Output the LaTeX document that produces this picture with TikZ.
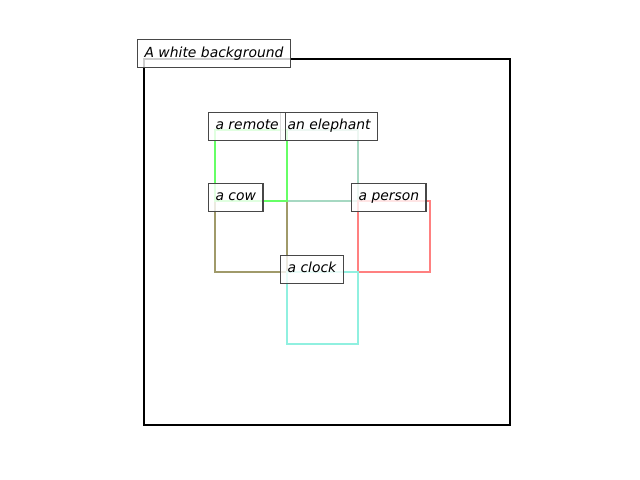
\documentclass[tikz,border=0pt]{standalone}
\usepackage{fontspec}
\setmainfont{DejaVu Sans}
\begin{document}
\begin{tikzpicture}[x=0.01in,y=-0.01in,
  region/.style={line width=2bp},
  tag/.style={anchor=south west, draw=black!72, line width=0.9bp,
    fill=white, fill opacity=0.8, text opacity=1,
    font=\fontsize{10bp}{12bp}\selectfont\itshape,
    inner xsep=5bp, inner ysep=0pt, text height=7.4bp, text depth=2.6bp,
    minimum height=20.2bp}]
\definecolor{remotec}{HTML}{66FF66}
\definecolor{elephantc}{HTML}{A6D8C2}
\definecolor{cowc}{HTML}{A09A6A}
\definecolor{personc}{HTML}{FF8080}
\definecolor{clockc}{HTML}{90F0E0}
\useasboundingbox (0,0) rectangle (640,480);

% regions
\draw[region, black] (144,59) rectangle (510,425);
\draw[region, elephantc] (287,130) rectangle (358,201);
\draw[region, cowc] (215,201) rectangle (287,272);
\draw[region, personc] (358,201) rectangle (430,272);
\draw[region, clockc] (287,272) rectangle (358,344);
\draw[region, remotec] (215,130) rectangle (287,201);

% labels
\node[tag] (bg) at (137,68.5) {A white background};
\node[tag] (elephant) at (280,141) {an elephant};
\node[tag] (cow) at (208,212) {a cow};
\node[tag] (person) at (351,212) {a person};
\node[tag] (clock) at (280,284) {a clock};
\node[tag] (remote) at (208,141) {a remote};
\end{tikzpicture}
\end{document}
